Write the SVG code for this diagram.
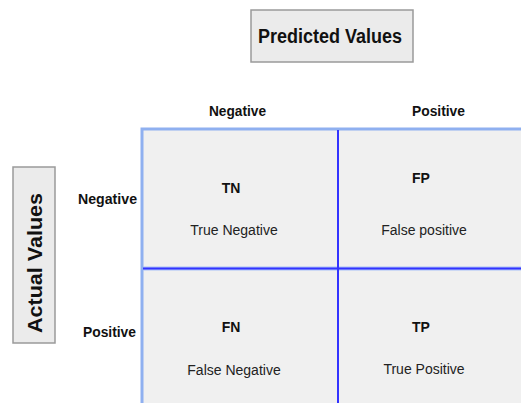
<svg xmlns="http://www.w3.org/2000/svg" width="521" height="403" viewBox="0 0 521 403">
<style>
.box{fill:#ebebeb;stroke:#9a9a9a;stroke-width:1.5}
.title{font-family:"Liberation Sans",Arial,sans-serif;font-weight:bold;font-size:20px;fill:#111}
.hdr{font-family:"Liberation Sans",Arial,sans-serif;font-weight:bold;font-size:14px;fill:#111}
.code{font-family:"Liberation Sans",Arial,sans-serif;font-weight:bold;font-size:14px;fill:#111;text-anchor:middle}
.desc{font-family:"Liberation Sans",Arial,sans-serif;font-size:14px;fill:#222;text-anchor:middle}
.grid{stroke:#3333ff;stroke-width:2;fill:none}
.halo{stroke:#a8c0f8;stroke-width:4;fill:none}
</style>
<rect width="521" height="403" fill="#ffffff"/>
<g id="predicted-values">
<rect class="box" x="251" y="10" width="162" height="52"/>
<text class="title" x="258" y="43" textLength="144" lengthAdjust="spacingAndGlyphs">Predicted Values</text>
</g>
<g id="actual-values">
<rect class="box" x="13" y="167" width="42" height="176"/>
<text class="title" transform="translate(41.5,333) rotate(-90)" x="0" y="0" textLength="140" lengthAdjust="spacingAndGlyphs">Actual Values</text>
</g>
<g id="headers">
<text class="hdr" x="209" y="116" textLength="57" lengthAdjust="spacingAndGlyphs">Negative</text>
<text class="hdr" x="412" y="116" textLength="53" lengthAdjust="spacingAndGlyphs">Positive</text>
<text class="hdr" x="78" y="204" textLength="59" lengthAdjust="spacingAndGlyphs">Negative</text>
<text class="hdr" x="83" y="337" textLength="53" lengthAdjust="spacingAndGlyphs">Positive</text>
</g>
<g id="matrix">
<rect x="142" y="129" width="381" height="276" fill="#f0f0f0" stroke="#8fb0f0" stroke-width="3"/>
</g>
<g id="connectors">
<line class="halo" x1="143" y1="268.5" x2="521" y2="268.5"/>
<line class="grid" x1="143" y1="268.5" x2="521" y2="268.5"/>
<line class="grid" x1="338" y1="130" x2="338" y2="403"/>
</g>
<g id="tn">
<text class="code" x="231" y="193">TN</text>
<text class="desc" x="234" y="235">True Negative</text>
</g>
<g id="fp">
<text class="code" x="421" y="183">FP</text>
<text class="desc" x="424" y="235">False positive</text>
</g>
<g id="fn">
<text class="code" x="231" y="332">FN</text>
<text class="desc" x="234" y="375">False Negative</text>
</g>
<g id="tp">
<text class="code" x="421" y="332">TP</text>
<text class="desc" x="424" y="374">True Positive</text>
</g>
</svg>
